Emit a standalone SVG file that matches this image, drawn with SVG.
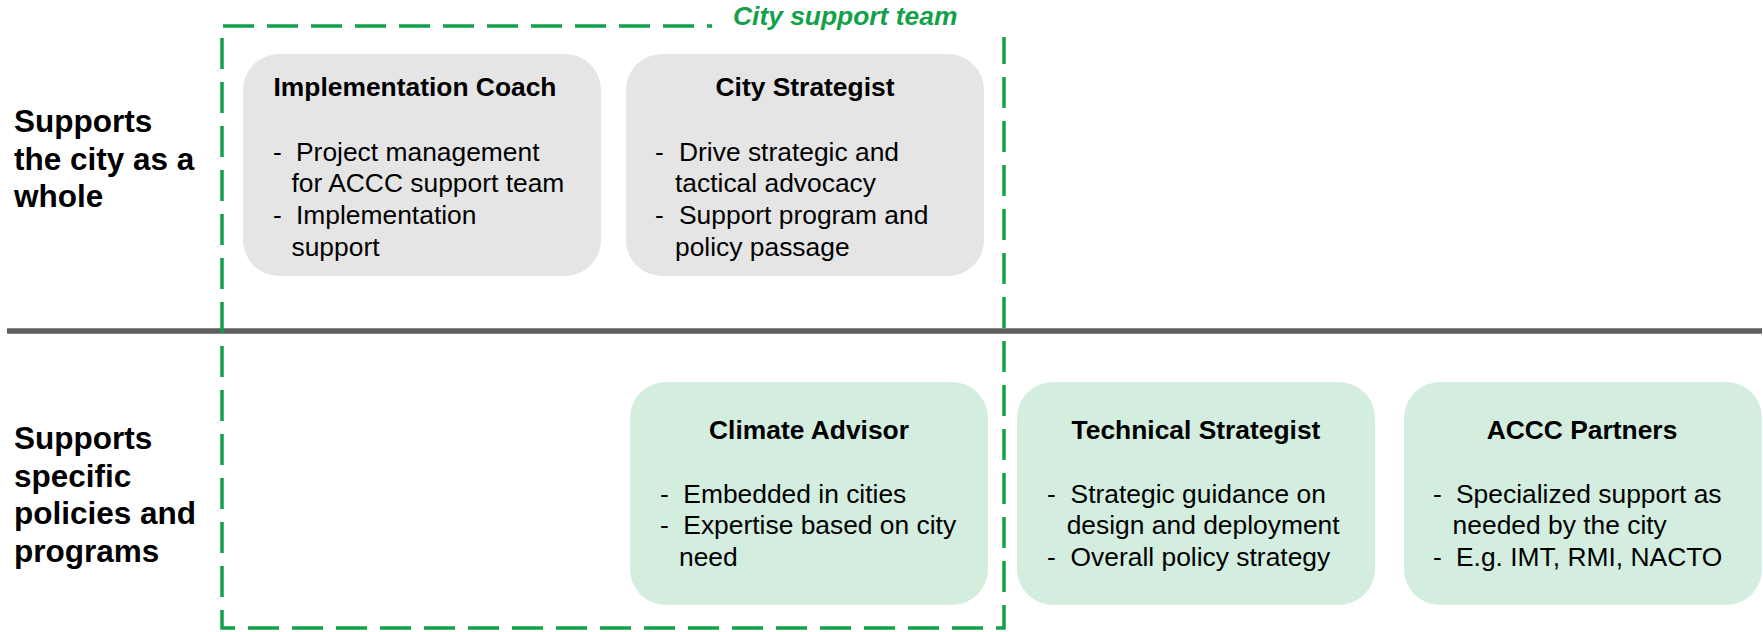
<svg xmlns="http://www.w3.org/2000/svg" width="1763" height="632" viewBox="0 0 1763 632">
<style>
text{font-family:"Liberation Sans",Arial,Helvetica,sans-serif;fill:#000}
.row{font-size:31.5px;font-weight:bold}
.ttl{font-size:26.4px;font-weight:bold;text-anchor:middle}
.bd{font-size:26.4px}
.gray{fill:#e5e5e5}
.green{fill:#d3eddf}
.team{font-size:26.4px;font-weight:bold;font-style:italic;fill:#12a14a}
</style>
<rect width="1763" height="632" fill="#fff"/>
<g id="row-labels">
<text class="row" x="14" y="132">Supports</text>
<text class="row" x="14" y="169.5">the city as a</text>
<text class="row" x="14" y="207">whole</text>
<text class="row" x="14" y="449">Supports</text>
<text class="row" x="14" y="486.5">specific</text>
<text class="row" x="14" y="524">policies and</text>
<text class="row" x="14" y="561.5">programs</text>
</g>
<g id="connectors">
<line x1="7" y1="331" x2="1762" y2="331" stroke="#5e5e5e" stroke-width="5.5"/>
<path d="M712 26 H222 V628 H1004 V37" fill="none" stroke="#12a14a" stroke-width="3.5" stroke-dasharray="31 13" stroke-dashoffset="26"/>
</g>
<g id="city-support-team">
<text class="team" x="733" y="25">City support team</text>
</g>
<g id="implementation-coach">
<rect class="gray" x="243" y="54" width="358" height="222" rx="36"/>
<text class="ttl" x="415" y="96">Implementation Coach</text>
<text class="bd" x="273" y="160.5">-</text>
<text class="bd" x="296" y="160.5">Project management</text>
<text class="bd" x="291.5" y="192.3">for ACCC support team</text>
<text class="bd" x="273" y="224">-</text>
<text class="bd" x="296" y="224">Implementation</text>
<text class="bd" x="291.5" y="255.7">support</text>
</g>
<g id="city-strategist">
<rect class="gray" x="626" y="54" width="358" height="222" rx="36"/>
<text class="ttl" x="805" y="96">City Strategist</text>
<text class="bd" x="655" y="160.5">-</text>
<text class="bd" x="679" y="160.5">Drive strategic and</text>
<text class="bd" x="675" y="192.3">tactical advocacy</text>
<text class="bd" x="655" y="224">-</text>
<text class="bd" x="679" y="224">Support program and</text>
<text class="bd" x="675" y="255.7">policy passage</text>
</g>
<g id="climate-advisor">
<rect class="green" x="630" y="382" width="358" height="223" rx="36"/>
<text class="ttl" x="809" y="439">Climate Advisor</text>
<text class="bd" x="660" y="502.7">-</text>
<text class="bd" x="683.3" y="502.7">Embedded in cities</text>
<text class="bd" x="660" y="534.3">-</text>
<text class="bd" x="683.3" y="534.3">Expertise based on city</text>
<text class="bd" x="679" y="566">need</text>
</g>
<g id="technical-strategist">
<rect class="green" x="1017" y="382" width="358" height="223" rx="36"/>
<text class="ttl" x="1196" y="439">Technical Strategist</text>
<text class="bd" x="1047" y="502.7">-</text>
<text class="bd" x="1070.6" y="502.7">Strategic guidance on</text>
<text class="bd" x="1066.7" y="534.3">design and deployment</text>
<text class="bd" x="1047" y="566">-</text>
<text class="bd" x="1070.6" y="566">Overall policy strategy</text>
</g>
<g id="accc-partners">
<rect class="green" x="1404" y="382" width="358" height="223" rx="36"/>
<text class="ttl" x="1582" y="439">ACCC Partners</text>
<text class="bd" x="1433" y="502.7">-</text>
<text class="bd" x="1456" y="502.7">Specialized support as</text>
<text class="bd" x="1452.6" y="534.3">needed by the city</text>
<text class="bd" x="1433" y="566">-</text>
<text class="bd" x="1456" y="566">E.g. IMT, RMI, NACTO</text>
</g>
</svg>
